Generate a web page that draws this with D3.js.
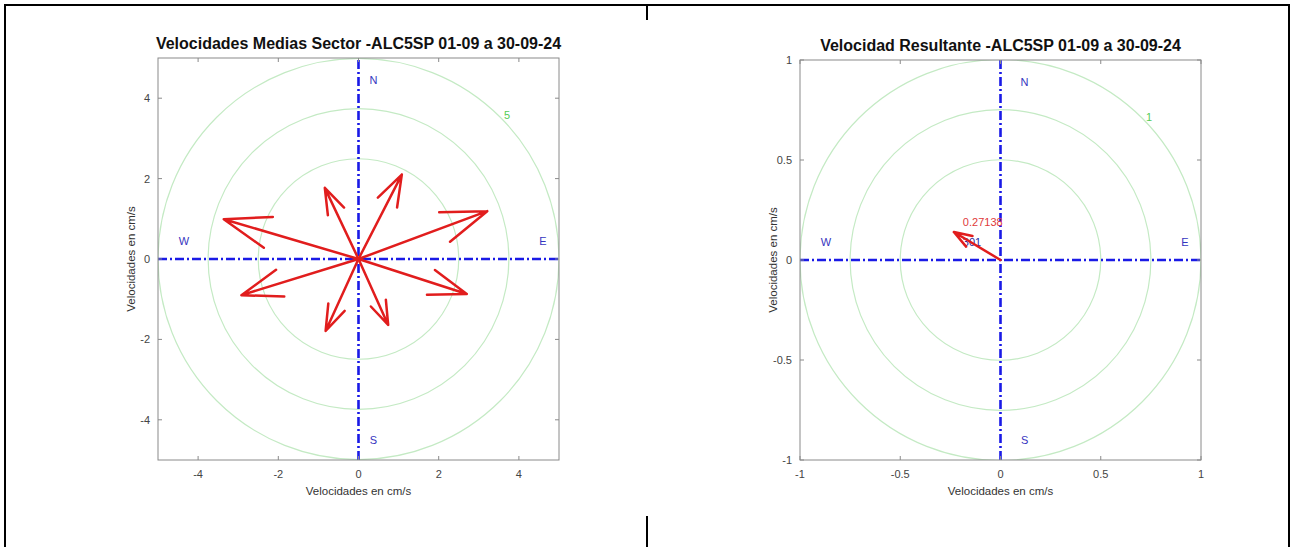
<!DOCTYPE html>
<html>
<head>
<meta charset="utf-8">
<script src="https://cdn.jsdelivr.net/npm/d3@7"></script>
<style>
  body { margin: 0; background: #fff; }
  svg { display: block; }
  text { font-family: "Liberation Sans", Arial, Helvetica, sans-serif; }
</style>
</head>
<body>
<svg id="chart" width="1290" height="547"></svg>
<script>
// Mean current per sector, east (u) and north (v) components in cm/s
const sectorNames = ["NNE", "ENE", "ESE", "SSE", "SSW", "WSW", "WNW", "NNW"];
const sectorU = [1.08, 3.21, 2.70, 0.74, -0.82, -2.92, -3.36, -0.84];
const sectorV = [2.10, 1.19, -0.87, -1.64, -1.79, -0.90, 0.99, 1.77];

// Resultant current: speed (cm/s) and direction (degrees, clockwise from N)
const resultantSpeed = [0.27138];
const resultantDir = [301];

// Axis limits and ticks
const leftLimit = 5;
const rightLimit = 1;
const leftTicks = [-4, -2, 0, 2, 4];
const rightTicks = [-1, -0.5, 0, 0.5, 1];
const leftTickLabels = ["-4", "-2", "0", "2", "4"];
const rightTickLabels = ["-1", "-0.5", "0", "0.5", "1"];

// Reference rings as fractions of the axis limit
const ringFractions = [0.5, 0.75, 1];

const titles = [
  "Velocidades Medias Sector -ALC5SP 01-09 a 30-09-24",
  "Velocidad Resultante -ALC5SP 01-09 a 30-09-24"
];
const axisLabel = "Velocidades en cm/s";
const cardinals = ["N", "S", "E", "W"];

const svg = d3.select("#chart");
svg.append("rect").attr("width", 1290).attr("height", 547).attr("fill", "#fff");

// Page frame
const frame = svg.append("g").attr("stroke", "#000").attr("stroke-width", 2).attr("fill", "none");
frame.append("path").attr("d", "M5,547 V5 H1289 V547");
frame.append("line").attr("x1", 647).attr("x2", 647).attr("y1", 5).attr("y2", 20);
frame.append("line").attr("x1", 647).attr("x2", 647).attr("y1", 516).attr("y2", 547);

function panel(cfg) {
  const L = cfg.limit;
  const x = d3.scaleLinear().domain([-L, L]).range([cfg.x0, cfg.x1]);
  const y = d3.scaleLinear().domain([-L, L]).range([cfg.y1, cfg.y0]);
  const g = svg.append("g");

  const clipId = "clip" + cfg.id;
  svg.append("clipPath").attr("id", clipId).append("rect")
    .attr("x", cfg.x0).attr("y", cfg.y0)
    .attr("width", cfg.x1 - cfg.x0).attr("height", cfg.y1 - cfg.y0);

  const plot = g.append("g").attr("clip-path", `url(#${clipId})`);

  // rings
  plot.selectAll("circle.ring").data(ringFractions).join("circle")
    .attr("class", "ring")
    .attr("cx", x(0)).attr("cy", y(0))
    .attr("r", d => x(d * L) - x(0))
    .attr("fill", "none").attr("stroke", "#c4eac4").attr("stroke-width", 1.2);

  // ring label
  const a = 44 * Math.PI / 180;
  g.append("text")
    .attr("x", x(1.03 * L * Math.cos(a))).attr("y", y(1.03 * L * Math.sin(a)))
    .attr("text-anchor", "middle").attr("dominant-baseline", "central")
    .attr("font-size", 11).attr("fill", "#55cc55")
    .text(cfg.ringLabel);

  // cardinal axes
  const dash = "9,3,2,3";
  plot.append("line").attr("x1", x(-L)).attr("x2", x(L)).attr("y1", y(0)).attr("y2", y(0))
    .attr("stroke", "#1a1ae6").attr("stroke-width", 2.6).attr("stroke-dasharray", dash);
  plot.append("line").attr("x1", x(0)).attr("x2", x(0)).attr("y1", y(-L)).attr("y2", y(L))
    .attr("stroke", "#1a1ae6").attr("stroke-width", 2.6).attr("stroke-dasharray", dash);

  const cardPos = {
    N: [cfg.nsOffset * L, 0.89 * L],
    S: [cfg.nsOffset * L, -0.9 * L],
    E: [0.92 * L, 0.09 * L],
    W: [-0.87 * L, 0.09 * L]
  };
  g.selectAll("text.card").data(cardinals).join("text")
    .attr("class", "card")
    .attr("x", d => x(cardPos[d][0])).attr("y", d => y(cardPos[d][1]))
    .attr("text-anchor", "middle").attr("dominant-baseline", "central")
    .attr("font-size", 11).attr("fill", "#3535c0")
    .text(d => d);

  // box, ticks
  const box = g.append("g");
  box.append("rect").attr("x", cfg.x0).attr("y", cfg.y0)
    .attr("width", cfg.x1 - cfg.x0).attr("height", cfg.y1 - cfg.y0)
    .attr("fill", "none").attr("stroke", "#8a8a8a").attr("stroke-width", 1);

  const tk = 4;
  cfg.ticks.forEach(t => {
    box.append("line").attr("x1", x(t)).attr("x2", x(t)).attr("y1", cfg.y1).attr("y2", cfg.y1 - tk)
      .attr("stroke", "#8a8a8a");
    box.append("line").attr("x1", x(t)).attr("x2", x(t)).attr("y1", cfg.y0).attr("y2", cfg.y0 + tk)
      .attr("stroke", "#8a8a8a");
    box.append("line").attr("y1", y(t)).attr("y2", y(t)).attr("x1", cfg.x0).attr("x2", cfg.x0 + tk)
      .attr("stroke", "#8a8a8a");
    box.append("line").attr("y1", y(t)).attr("y2", y(t)).attr("x1", cfg.x1).attr("x2", cfg.x1 - tk)
      .attr("stroke", "#8a8a8a");
  });

  g.selectAll("text.xt").data(cfg.ticks).join("text")
    .attr("class", "xt")
    .attr("x", d => x(d)).attr("y", cfg.y1 + 14)
    .attr("text-anchor", "middle").attr("dominant-baseline", "central")
    .attr("font-size", 11).attr("fill", "#444")
    .text((d, i) => cfg.tickLabels[i]);

  g.selectAll("text.yt").data(cfg.ticks).join("text")
    .attr("class", "yt")
    .attr("x", cfg.x0 - 8).attr("y", d => y(d))
    .attr("text-anchor", "end").attr("dominant-baseline", "central")
    .attr("font-size", 11).attr("fill", "#444")
    .text((d, i) => cfg.tickLabels[i]);

  // axis labels
  g.append("text").attr("x", (cfg.x0 + cfg.x1) / 2).attr("y", cfg.y1 + 31)
    .attr("text-anchor", "middle").attr("dominant-baseline", "central")
    .attr("font-size", 11.5).attr("fill", "#333").text(axisLabel);
  g.append("text")
    .attr("transform", `translate(${cfg.x0 - 27},${(cfg.y0 + cfg.y1) / 2}) rotate(-90)`)
    .attr("text-anchor", "middle").attr("dominant-baseline", "central")
    .attr("font-size", 11.5).attr("fill", "#333").text(axisLabel);

  // title
  g.append("text").attr("x", (cfg.x0 + cfg.x1) / 2).attr("y", cfg.y0 - 15)
    .attr("text-anchor", "middle").attr("dominant-baseline", "central")
    .attr("font-size", 16).attr("font-weight", "bold").attr("fill", "#111")
    .text(cfg.title);

  return { g, plot, x, y };
}

// Compass-style arrow: shaft from origin to (u,v) plus two barbs
const headFrac = 0.35;
const headAng = 19 * Math.PI / 180;
function arrowPath(u, v, x, y) {
  const bx = -headFrac * u, by = -headFrac * v;
  const c = Math.cos(headAng), s = Math.sin(headAng);
  const b1 = [u + bx * c - by * s, v + bx * s + by * c];
  const b2 = [u + bx * c + by * s, v - bx * s + by * c];
  return `M${x(0)},${y(0)} L${x(u)},${y(v)} M${x(b1[0])},${y(b1[1])} L${x(u)},${y(v)} L${x(b2[0])},${y(b2[1])}`;
}

// Left panel: sector means
const left = panel({
  id: "L", limit: leftLimit, x0: 158, x1: 559, y0: 58, y1: 460,
  ticks: leftTicks, tickLabels: leftTickLabels, ringLabel: "5",
  nsOffset: 0.075, title: titles[0]
});
left.g.selectAll("path.arrow").data(sectorNames).join("path")
  .attr("class", "arrow")
  .attr("d", (d, i) => arrowPath(sectorU[i], sectorV[i], left.x, left.y))
  .attr("fill", "none").attr("stroke", "#e11d1d").attr("stroke-width", 2.5)
  .attr("stroke-linecap", "round").attr("stroke-linejoin", "round");

// Right panel: resultant
const right = panel({
  id: "R", limit: rightLimit, x0: 800, x1: 1201, y0: 60, y1: 460,
  ticks: rightTicks, tickLabels: rightTickLabels, ringLabel: "1",
  nsOffset: 0.12, title: titles[1]
});
const resU = resultantSpeed.map((s, i) => s * Math.sin(resultantDir[i] * Math.PI / 180));
const resV = resultantSpeed.map((s, i) => s * Math.cos(resultantDir[i] * Math.PI / 180));

right.g.selectAll("text.dir").data(resultantDir).join("text")
  .attr("class", "dir")
  .attr("x", (d, i) => right.x(resU[i]) + 9).attr("y", (d, i) => right.y(resV[i]) + 10)
  .attr("dominant-baseline", "central").attr("font-size", 11).attr("fill", "#2a2aa0")
  .text(d => d);
right.g.selectAll("path.arrow").data(resultantSpeed).join("path")
  .attr("class", "arrow")
  .attr("d", (d, i) => arrowPath(resU[i], resV[i], right.x, right.y))
  .attr("fill", "none").attr("stroke", "#e11d1d").attr("stroke-width", 2.5)
  .attr("stroke-linecap", "round").attr("stroke-linejoin", "round");
right.g.selectAll("text.spd").data(resultantSpeed).join("text")
  .attr("class", "spd")
  .attr("x", (d, i) => right.x(resU[i]) + 9).attr("y", (d, i) => right.y(resV[i]) - 10)
  .attr("dominant-baseline", "central").attr("font-size", 11).attr("fill", "#e03a3a")
  .text(d => d);
</script>
</body>
</html>
